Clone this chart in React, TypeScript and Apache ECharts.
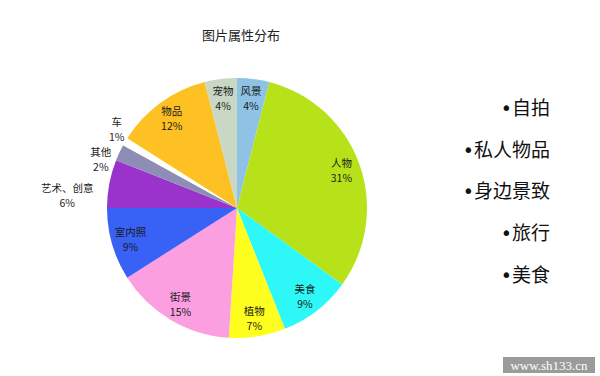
import React, { useEffect, useRef } from "react";
import * as echarts from "echarts";

const categories = ["风景", "人物", "美食", "植物", "街景", "室内照", "艺术、创意", "其他", "车", "物品", "宠物"];
const values = [4, 31, 9, 7, 15, 9, 6, 2, 1, 12, 4];
const colors = ["#8fc3e5", "#b7e21a", "#2ef7f7", "#ffff1f", "#fb9fe1", "#3861f6", "#9a33cc", "#8d8db6", "#ffffff", "#fdc124", "#c9d8c5"];
const outsideLabels = ["艺术、创意", "其他", "车"];
const bulletItems = ["•自拍", "•私人物品", "•身边景致", "•旅行", "•美食"];
const titleText = "图片属性分布";
const watermark = "www.sh133.cn";

const outerShift: Record<string, number[]> = {
  "车": [13, -8],
  "其他": [6, 11],
  "艺术、创意": [-1, 13],
};

export default function App() {
  const ref = useRef<HTMLDivElement>(null);
  useEffect(() => {
    document.body.style.margin = "0";
    const chart = echarts.init(ref.current!, null, { renderer: "svg" });
    const center = [237, 208];
    const font = "'Noto Sans CJK SC', 'Noto Sans', sans-serif";
    const labelStyle = {
      color: "#1a1a1a",
      fontSize: 10.5,
      lineHeight: 15,
      fontFamily: font,
    };
    const baseData = categories.map((name, i) => ({ name, value: values[i] }));
    chart.setOption({
      animation: false,
      backgroundColor: "#ffffff",
      title: {
        text: titleText,
        left: 236,
        top: 23,
        textAlign: "center",
        textStyle: { fontSize: 13, fontWeight: "normal", color: "#222", fontFamily: font },
      },
      series: [
        {
          type: "pie",
          center,
          radius: 130,
          startAngle: 90,
          clockwise: true,
          silent: true,
          avoidLabelOverlap: false,
          label: { show: false },
          labelLine: { show: false },
          data: baseData.map((d, i) => ({ ...d, itemStyle: { color: colors[i] } })),
        },
        {
          type: "pie",
          center,
          radius: [86, 130],
          startAngle: 90,
          clockwise: true,
          silent: true,
          avoidLabelOverlap: false,
          itemStyle: { color: "rgba(0,0,0,0)" },
          labelLine: { show: false },
          label: { show: true, position: "inside", formatter: "{b}\n{c}%", ...labelStyle },
          data: baseData.map((d) => ({
            ...d,
            label: { show: !outsideLabels.includes(d.name) },
          })),
        },
        {
          type: "pie",
          center,
          radius: [120, 140],
          startAngle: 90,
          clockwise: true,
          silent: true,
          avoidLabelOverlap: false,
          itemStyle: { color: "rgba(0,0,0,0)" },
          labelLine: { show: false, length: 0, length2: 0 },
          label: {
            show: true,
            position: "outside",
            formatter: (p: any) => `{t|${p.name}}\n{t|${p.value}%}`,
            rich: { t: { ...labelStyle, align: "center" } },
          },
          labelLayout: (p: any) => {
            const name = categories[p.dataIndex];
            const s = outerShift[name];
            return s ? { dx: s[0], dy: s[1] } : {};
          },
          data: baseData.map((d) => ({
            ...d,
            label: { show: outsideLabels.includes(d.name) },
          })),
        },
      ],
      graphic: [
        ...bulletItems.map((t, i) => ({
          type: "text",
          right: 50,
          top: [98, 140, 181, 223, 265][i],
          style: {
            text: t,
            fontSize: 19,
            fill: "#111",
            fontFamily: "'DejaVu Sans', 'Noto Sans CJK SC', sans-serif",
          },
        })),
        {
          type: "rect",
          shape: { x: 503, y: 357, width: 92, height: 16 },
          style: { fill: "#9b9b9b" },
        },
        {
          type: "text",
          x: 549,
          y: 365,
          style: {
            text: watermark,
            fill: "#ffffff",
            fontSize: 13,
            fontFamily: "'Liberation Serif', 'DejaVu Serif', serif",
            align: "center",
            verticalAlign: "middle",
          },
        },
      ],
    });
    return () => chart.dispose();
  }, []);
  return <div ref={ref} style={{ width: 600, height: 376 }} />;
}
